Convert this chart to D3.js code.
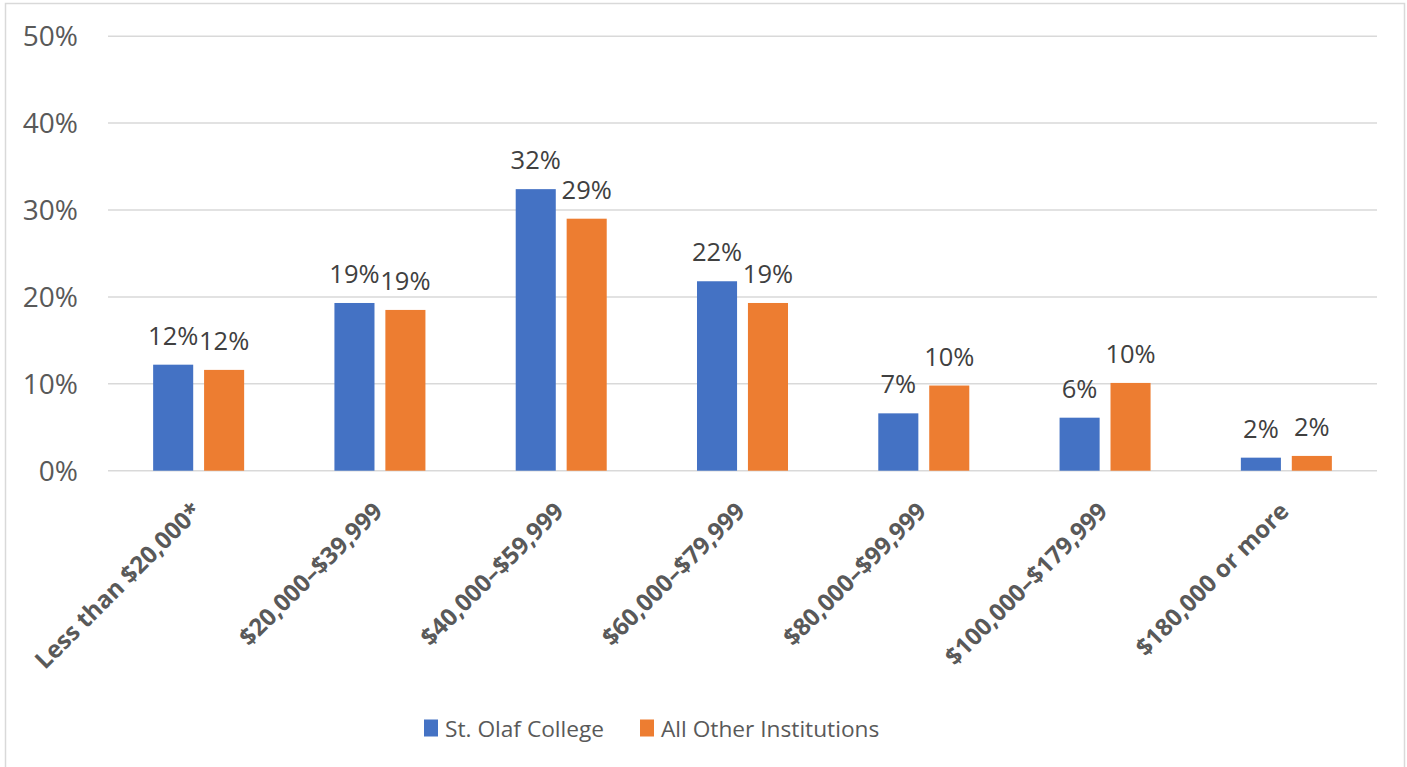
<!DOCTYPE html>
<html>
<head>
<meta charset="utf-8">
<script src="https://cdn.jsdelivr.net/npm/d3@7"></script>
<style>
  html, body { margin: 0; padding: 0; background: #fff; }
  svg { display: block; font-family: "Open Sans", "Noto Sans", sans-serif; }
</style>
</head>
<body>
<svg id="chart" width="1407" height="767"></svg>
<script>
// Family income brackets and the share of students in each
const categories = ["Less than $20,000*", "$20,000–$39,999", "$40,000–$59,999", "$60,000–$79,999",
                    "$80,000–$99,999", "$100,000–$179,999", "$180,000 or more"];
const seriesNames = ["St. Olaf College", "All Other Institutions"];
const stOlaf = [12.2, 19.3, 32.4, 21.8, 6.6, 6.1, 1.5];
const otherInst = [11.6, 18.5, 29.0, 19.3, 9.8, 10.1, 1.7];
const yTicks = [0, 10, 20, 30, 40, 50];
const colors = ["#4472C4", "#ED7D31"];

const svg = d3.select("#chart");

// outer chart frame
svg.append("rect")
  .attr("x", 5.5).attr("y", 3.5)
  .attr("width", 1399).attr("height", 770)
  .attr("fill", "#fff").attr("stroke", "#d9d9d9").attr("stroke-width", 1.5);

const plot = { left: 108, right: 1377, top: 36.2, bottom: 470.7 };

const x = d3.scaleBand().domain(categories).range([plot.left, plot.right]).padding(0);
const y = d3.scaleLinear().domain([0, 50]).range([plot.bottom, plot.top]);

const bw = x.bandwidth();
const barW = bw * 0.221;
const gap = bw * 0.06;
const sub = d3.scaleOrdinal().domain([0, 1]).range([
  bw / 2 - gap / 2 - barW,
  bw / 2 + gap / 2
]);

// gridlines
svg.append("g")
  .selectAll("line")
  .data(yTicks)
  .join("line")
  .attr("x1", plot.left).attr("x2", plot.right)
  .attr("y1", d => y(d)).attr("y2", d => y(d))
  .attr("stroke", "#d9d9d9").attr("stroke-width", 1.5);

// y axis labels
svg.append("g")
  .selectAll("text")
  .data(yTicks)
  .join("text")
  .attr("x", 78)
  .attr("y", d => y(d))
  .attr("dy", "0.36em")
  .attr("text-anchor", "end")
  .attr("fill", "#595959")
  .attr("font-size", 28)
  .text(d => d + "%");

const series = [stOlaf, otherInst];

series.forEach((vals, si) => {
  const g = svg.append("g");
  g.selectAll("rect")
    .data(vals)
    .join("rect")
    .attr("x", (d, i) => x(categories[i]) + sub(si))
    .attr("y", d => y(d))
    .attr("width", barW)
    .attr("height", d => y(0) - y(d))
    .attr("fill", colors[si]);

  g.selectAll("text")
    .data(vals)
    .join("text")
    .attr("x", (d, i) => x(categories[i]) + sub(si) + barW / 2)
    .attr("y", d => y(d) - 20)
    .attr("text-anchor", "middle")
    .attr("fill", "#404040")
    .attr("font-size", 25.5)
    .text(d => Math.round(d) + "%");
});

// rotated category labels
svg.append("g")
  .selectAll("text")
  .data(categories)
  .join("text")
  .attr("transform", d => `translate(${x(d) + bw / 2 + 4},${plot.bottom + 42}) rotate(-45)`)
  .attr("text-anchor", "end")
  .attr("fill", "#595959")
  .attr("font-size", 24)
  .attr("font-weight", "bold")
  .text(d => d);

// legend
const legend = svg.append("g");
const legendItems = [
  { name: seriesNames[0], color: colors[0], x: 424 },
  { name: seriesNames[1], color: colors[1], x: 640 }
];
legendItems.forEach(it => {
  legend.append("rect")
    .attr("x", it.x).attr("y", 719.5)
    .attr("width", 14).attr("height", 17)
    .attr("fill", it.color);
  legend.append("text")
    .attr("x", it.x + 21).attr("y", 737)
    .attr("fill", "#595959")
    .attr("font-size", 22.7)
    .text(it.name);
});
</script>
</body>
</html>
